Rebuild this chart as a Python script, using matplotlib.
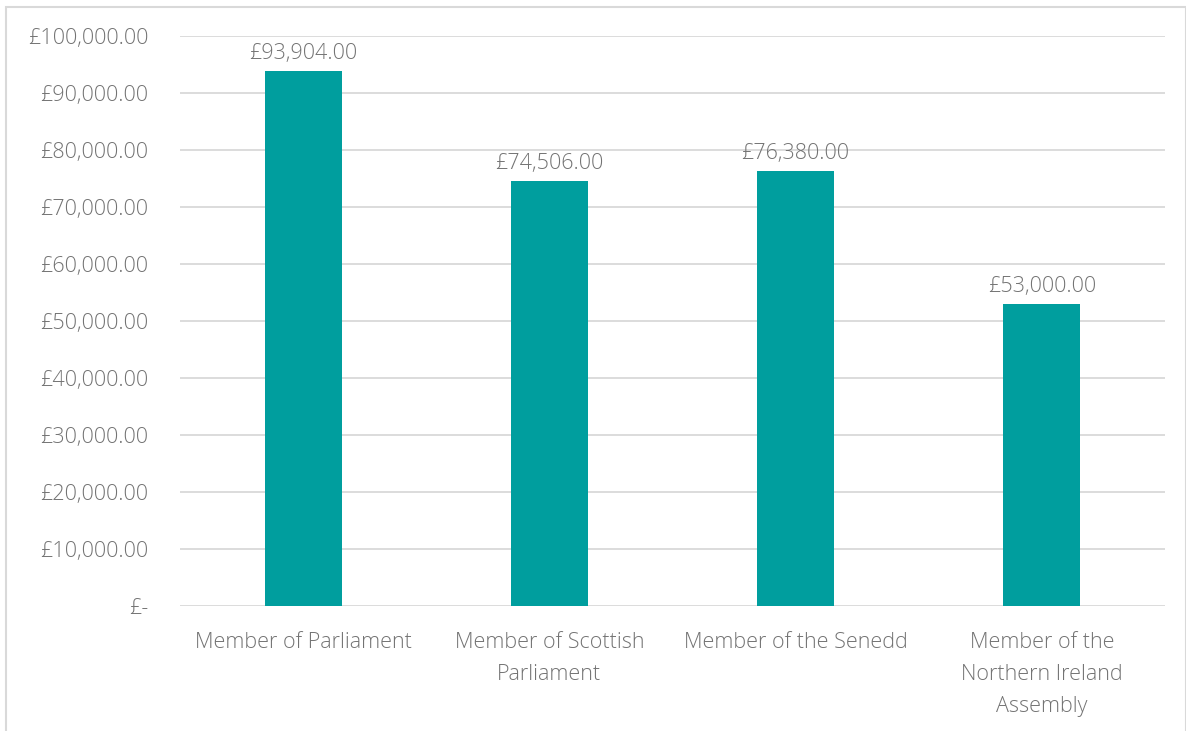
import matplotlib
matplotlib.use("Agg")
import matplotlib.pyplot as plt
from matplotlib.patches import Rectangle

categories = ["Member of Parliament", "Member of Scottish\nParliament",
              "Member of the Senedd", "Member of the\nNorthern Ireland\nAssembly"]
values = [93904, 74506, 76380, 53000]
yticks = [0, 10000, 20000, 30000, 40000, 50000, 60000, 70000, 80000, 90000, 100000]

W, H = 1186, 731
fig = plt.figure(figsize=(W/100, H/100), dpi=100)
ax = fig.add_axes([180/W, 1-606/H, (1165-180)/W, (606-36)/H])

fam = ["Open Sans", "DejaVu Sans"]
tc = "#737373"
fs = 15.5
x = list(range(len(categories)))
ax.bar(x, values, width=0.313, color="#009e9e", zorder=3)
ax.set_xlim(-0.5, len(categories)-0.5)
ax.set_ylim(0, 100000)
ax.set_yticks(yticks)
ax.set_yticklabels(["£-" if v == 0 else f"£{v:,.2f}" for v in yticks],
                   fontsize=fs, color=tc, family=fam, fontweight="light")
ax.set_xticks(x)
ax.set_xticklabels(categories, fontsize=fs, color=tc, family=fam, fontweight="light",
                   linespacing=1.68)
ax.tick_params(axis="y", length=0, pad=23)
ax.tick_params(axis="x", length=0, pad=19)
ax.grid(axis="y", color="#d9d9d9", linewidth=1.3, zorder=0)
for s in ax.spines.values():
    s.set_visible(False)
for xi, v in zip(x, values):
    ax.annotate(f"£{v:,.2f}", (xi, v), xytext=(0, 5), textcoords="offset points",
                ha="center", va="bottom", fontsize=fs, color=tc, family=fam,
                fontweight="light")

fig.patches.append(Rectangle((6/W, -0.1), (W-6)/W, 1.1-7/H, transform=fig.transFigure,
                             fill=False, edgecolor="#d9d9d9", linewidth=1.5))
fig.savefig("out.png", dpi=100)
